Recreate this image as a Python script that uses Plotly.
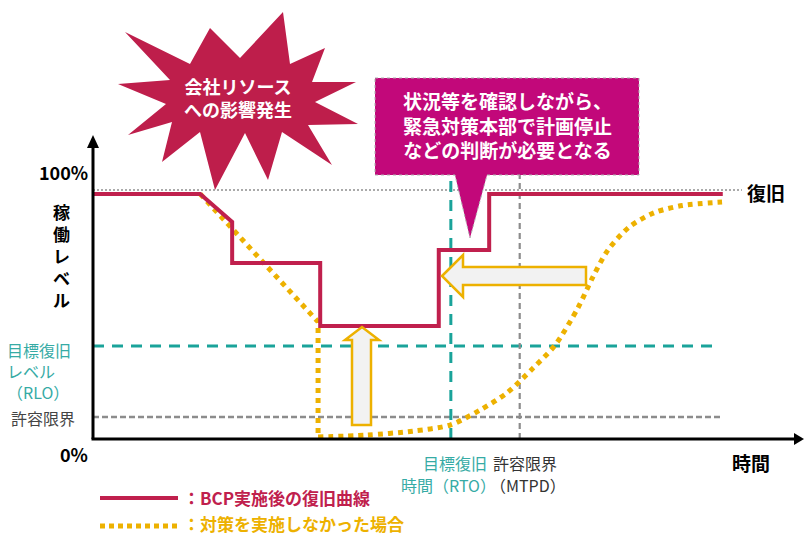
import plotly.graph_objects as go

# ---------------- data (time units, operating level %) ----------------
bcp_time = [0, 15.1, 19.6, 19.6, 32.0, 32.0, 48.7, 48.7, 55.8, 55.8, 88.7]
bcp_level = [100, 100, 88.6, 71.8, 71.8, 46.1, 46.1, 77.1, 77.1, 100, 100]

drop_time = [15.1, 31.7, 31.7]
drop_level = [100, 47.8, 0.8]

recover_time = [31.7, 38.6, 45.0, 50.3, 54.5, 58.3, 62.0, 65.1, 68.3, 70.4, 72.5, 75.5, 79.0, 83.0, 88.6]
recover_level = [0.8, 1.6, 3.2, 5.7, 11.8, 18.8, 29.0, 38.4, 53.5, 66.1, 77.0, 86.5, 92.3, 95.3, 96.7]

full_level = 101.6      # 復旧 reference line
rlo_level = 38.0        # 目標復旧レベル
limit_level = 9.0       # 許容限界
rto_time = 50.4         # 目標復旧時間
mtpd_time = 60.1        # 許容限界 (MTPD)
ref_end = [91.4, 88.0, 88.6]
vline_top = 111.8

# ---------------- colours / fonts ----------------
RED = "#C0204D"
BURST = "#BE1E4B"
MAGENTA = "#C2087A"
TEAL = "#1AA39A"
TEAL_TXT = "#36ABA5"
GOLD = "#EDB100"
GRAY = "#8C8C8C"
FONT = "Noto Sans CJK JP"

W, H = 805, 536
SX, SY = 7.1, 2.45
X0PX, Y0PX = 93, 439
xmin = -X0PX / SX
xmax = xmin + W / SX
ymax = Y0PX / SY
ymin = ymax - H / SY


def P(px, py):
    return px / W, 1 - py / H


def path(pts):
    s = ""
    for i, (x, y) in enumerate(pts):
        a, b = P(x, y)
        s += ("M" if i == 0 else "L") + f"{a:.5f},{b:.5f} "
    return s + "Z"


fig = go.Figure()

# reference lines
fig.add_trace(go.Scatter(x=[0, ref_end[0]], y=[full_level, full_level], mode="lines",
                         line=dict(color="#AAAAAA", width=2, dash="2px,2px"), hoverinfo="skip"))
fig.add_trace(go.Scatter(x=[0, ref_end[2]], y=[limit_level, limit_level], mode="lines",
                         line=dict(color=GRAY, width=2.5, dash="6px,3px"), hoverinfo="skip"))
fig.add_trace(go.Scatter(x=[0, ref_end[1]], y=[rlo_level, rlo_level], mode="lines",
                         line=dict(color=TEAL, width=3, dash="11px,8px"), hoverinfo="skip"))
fig.add_trace(go.Scatter(x=[rto_time, rto_time], y=[0, vline_top], mode="lines",
                         line=dict(color=TEAL, width=3, dash="11px,8px"), hoverinfo="skip"))
fig.add_trace(go.Scatter(x=[mtpd_time, mtpd_time], y=[0, vline_top], mode="lines",
                         line=dict(color=GRAY, width=2.2, dash="6px,4px"), hoverinfo="skip"))

# no-action curve
fig.add_trace(go.Scatter(x=drop_time, y=drop_level, mode="lines",
                         line=dict(color=GOLD, width=5, dash="5px,5px"), hoverinfo="skip"))
fig.add_trace(go.Scatter(x=recover_time, y=recover_level, mode="lines",
                         line=dict(color=GOLD, width=5, dash="5px,5px", shape="spline", smoothing=0.8),
                         hoverinfo="skip"))

# BCP curve
fig.add_trace(go.Scatter(x=bcp_time, y=bcp_level, mode="lines",
                         line=dict(color=RED, width=4), hoverinfo="skip"))

shapes = []
# axes
shapes.append(dict(type="path", xref="paper", yref="paper",
                   path=path([(91.5, 439), (94.5, 439), (94.5, 146), (91.5, 146)]),
                   fillcolor="black", line=dict(width=0), layer="above"))
shapes.append(dict(type="path", xref="paper", yref="paper",
                   path=path([(93, 135), (87, 148), (99, 148)]),
                   fillcolor="black", line=dict(width=0), layer="above"))
shapes.append(dict(type="path", xref="paper", yref="paper",
                   path=path([(91.5, 437.5), (795, 437.5), (795, 440.5), (91.5, 440.5)]),
                   fillcolor="black", line=dict(width=0), layer="above"))
shapes.append(dict(type="path", xref="paper", yref="paper",
                   path=path([(804, 439), (794, 433), (794, 445)]),
                   fillcolor="black", line=dict(width=0), layer="above"))

# starburst
burst = [(125, 32), (190, 64), (210, 28), (240, 58), (283, 12), (290, 64), (325, 48), (312, 82),
         (356, 82), (315, 102), (358, 124), (308, 125), (332, 165), (282, 132), (268, 180),
         (245, 133), (215, 190), (200, 132), (162, 162), (172, 122), (128, 135), (166, 104),
         (118, 84), (170, 80)]
shapes.append(dict(type="path", xref="paper", yref="paper", path=path(burst),
                   fillcolor=BURST, line=dict(width=0), layer="above"))

# callout
callout = [(375, 78), (639, 78), (639, 175), (487, 175), (470, 238), (455, 175), (375, 175)]
shapes.append(dict(type="path", xref="paper", yref="paper", path=path(callout),
                   fillcolor=MAGENTA, line=dict(width=1, color="#B0B0B0", dash="dot"), layer="above"))

# yellow arrows
up_arrow = [(352, 425), (352, 340), (345, 340), (362, 327), (379, 340), (371, 340), (371, 425)]
left_arrow = [(442, 276), (463, 255), (463, 267), (586, 267), (586, 285), (463, 285), (463, 297)]
for arr in (up_arrow, left_arrow):
    shapes.append(dict(type="path", xref="paper", yref="paper", path=path(arr),
                       fillcolor="#F2F2F2", line=dict(width=2.5, color=GOLD), layer="above"))

# legend samples
a, b = P(100, 498)
c, d = P(178, 498)
shapes.append(dict(type="line", xref="paper", yref="paper", x0=a, y0=b, x1=c, y1=d,
                   line=dict(color=RED, width=4)))
a, b = P(100, 526)
c, d = P(180, 526)
shapes.append(dict(type="line", xref="paper", yref="paper", x0=a, y0=b, x1=c, y1=d,
                   line=dict(color=GOLD, width=5, dash="5px,4px")))

annotations = []


def text(t, px, py, size, color="black", xanchor="center", align="center"):
    x, y = P(px, py)
    annotations.append(dict(text=t, x=x, y=y, xref="paper", yref="paper", showarrow=False,
                            xanchor=xanchor, yanchor="middle", align=align, borderpad=0,
                            font=dict(family=FONT, size=size, color=color)))


text("<b>100%</b>", 89, 172, 18, xanchor="right")
text("<b>0%</b>", 89, 454, 18, xanchor="right")
text("<b>稼<br>働<br>レ<br>ベ<br>ル</b>", 61, 255, 17)
text("目標復旧", 6, 350, 16, TEAL_TXT, xanchor="left")
text("レベル", 6, 371, 16, TEAL_TXT, xanchor="left")
text("（RLO）", 6, 392, 16, TEAL_TXT, xanchor="left")
text("許容限界", 10, 418, 16, "#444444", xanchor="left")
text("目標復旧", 488, 463, 16, TEAL_TXT, xanchor="right")
text("時間（RTO）", 497, 485, 16, TEAL_TXT, xanchor="right")
text("許容限界", 492, 463, 16, "#333333", xanchor="left")
text("（MTPD）", 489, 485, 16, "#333333", xanchor="left")
text("<b>時間</b>", 751, 462, 19)
text("<b>復旧</b>", 746, 193, 19, xanchor="left")
text("<b>会社リソース<br>への影響発生</b>", 238, 97, 18, "white")
text("<b>状況等を確認しながら、<br>緊急対策本部で計画停止<br>などの判断が必要となる</b>", 507, 125, 19, "white")
text("<b>：BCP実施後の復旧曲線</b>", 182, 497, 17, RED, xanchor="left")
text("<b>：対策を実施しなかった場合</b>", 182, 523, 17, GOLD, xanchor="left")

fig.update_layout(
    width=W, height=H, margin=dict(l=0, r=0, t=0, b=0),
    paper_bgcolor="white", plot_bgcolor="white", showlegend=False,
    xaxis=dict(range=[xmin, xmax], visible=False, fixedrange=True),
    yaxis=dict(range=[ymin, ymax], visible=False, fixedrange=True),
    shapes=shapes, annotations=annotations,
)

fig.write_html("out.html", config={"displayModeBar": False})
